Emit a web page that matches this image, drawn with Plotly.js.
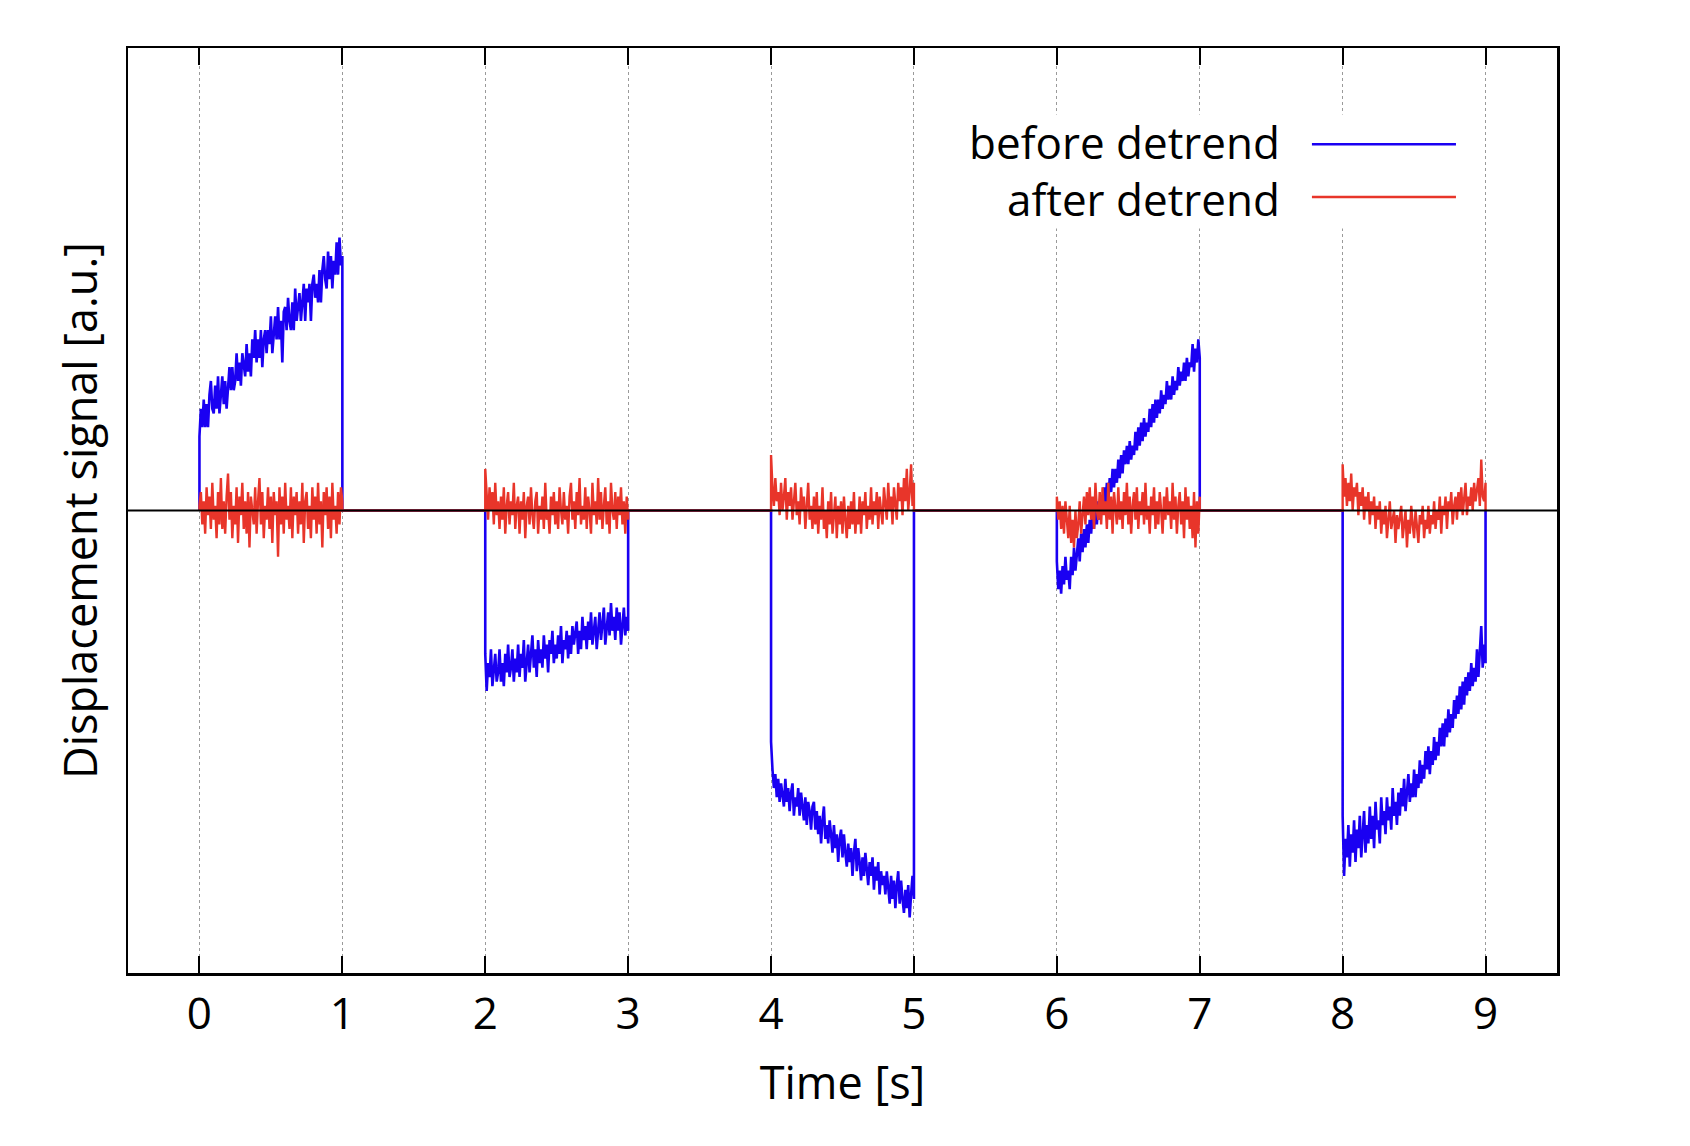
<!DOCTYPE html>
<html>
<head>
<meta charset="utf-8">
<script src="https://cdn.plot.ly/plotly-3.0.1.min.js"></script>
<style>
  html, body { margin: 0; padding: 0; background: #fff; }
  #plot { width: 1690px; height: 1146px; }
</style>
</head>
<body>
<div id="plot"></div>
<script>
// start time of each recorded segment [s], each lasts 1 s, sampled every 10 ms
var seg_start = [0, 2, 4, 6, 8];
var seg_len = 1;
var dt = 0.01;

// displacement before detrend (a.u.)
var blue1 = [0.16, 0.22, 0.18, 0.24, 0.18, 0.23, 0.18, 0.25, 0.28, 0.22,
  0.21, 0.27, 0.22, 0.29, 0.21, 0.25, 0.29, 0.23, 0.28, 0.22,
  0.28, 0.31, 0.26, 0.31, 0.26, 0.28, 0.34, 0.28, 0.32, 0.27,
  0.34, 0.31, 0.29, 0.36, 0.30, 0.34, 0.29, 0.37, 0.33, 0.39,
  0.32, 0.37, 0.33, 0.39, 0.31, 0.37, 0.39, 0.34, 0.39, 0.36,
  0.42, 0.34, 0.38, 0.42, 0.37, 0.44, 0.37, 0.41, 0.32, 0.43,
  0.44, 0.39, 0.46, 0.41, 0.39, 0.45, 0.39, 0.48, 0.41, 0.45,
  0.47, 0.41, 0.45, 0.49, 0.41, 0.48, 0.45, 0.49, 0.41, 0.49,
  0.51, 0.46, 0.49, 0.45, 0.52, 0.45, 0.52, 0.55, 0.50, 0.48,
  0.56, 0.50, 0.55, 0.48, 0.54, 0.51, 0.58, 0.51, 0.59, 0.53,
  0.55];
var blue2 = [-0.31, -0.39, -0.33, -0.36, -0.30, -0.38, -0.34, -0.31, -0.37, -0.35,
  -0.30, -0.37, -0.33, -0.38, -0.31, -0.35, -0.29, -0.36, -0.34, -0.30,
  -0.37, -0.32, -0.35, -0.29, -0.36, -0.31, -0.34, -0.28, -0.37, -0.33,
  -0.29, -0.35, -0.31, -0.27, -0.34, -0.30, -0.36, -0.28, -0.33, -0.30,
  -0.34, -0.27, -0.32, -0.29, -0.35, -0.28, -0.31, -0.26, -0.33, -0.29,
  -0.32, -0.27, -0.31, -0.25, -0.33, -0.28, -0.30, -0.26, -0.32, -0.27,
  -0.31, -0.25, -0.29, -0.27, -0.24, -0.31, -0.26, -0.30, -0.23, -0.28,
  -0.25, -0.30, -0.24, -0.28, -0.22, -0.29, -0.26, -0.23, -0.30, -0.25,
  -0.22, -0.28, -0.24, -0.21, -0.29, -0.25, -0.22, -0.27, -0.20, -0.26,
  -0.23, -0.28, -0.21, -0.26, -0.22, -0.29, -0.24, -0.21, -0.27, -0.23,
  -0.26];
var blue3 = [-0.50, -0.56, -0.60, -0.57, -0.62, -0.58, -0.63, -0.59, -0.61, -0.64,
  -0.58, -0.63, -0.60, -0.65, -0.61, -0.59, -0.66, -0.62, -0.64, -0.60,
  -0.66, -0.61, -0.64, -0.67, -0.62, -0.68, -0.63, -0.65, -0.69, -0.64,
  -0.63, -0.69, -0.65, -0.70, -0.66, -0.72, -0.67, -0.64, -0.71, -0.68,
  -0.72, -0.67, -0.70, -0.74, -0.68, -0.73, -0.70, -0.76, -0.71, -0.69,
  -0.75, -0.70, -0.74, -0.77, -0.72, -0.76, -0.73, -0.79, -0.74, -0.71,
  -0.78, -0.73, -0.76, -0.80, -0.75, -0.79, -0.74, -0.77, -0.81, -0.76,
  -0.79, -0.75, -0.82, -0.77, -0.80, -0.76, -0.83, -0.78, -0.81, -0.79,
  -0.83, -0.78, -0.82, -0.85, -0.79, -0.84, -0.80, -0.86, -0.81, -0.78,
  -0.85, -0.80, -0.84, -0.87, -0.82, -0.86, -0.81, -0.88, -0.83, -0.79,
  -0.84];
var blue4 = [-0.11, -0.17, -0.13, -0.18, -0.12, -0.16, -0.10, -0.15, -0.13, -0.17,
  -0.10, -0.14, -0.08, -0.13, -0.09, -0.06, -0.11, -0.05, -0.09, -0.04,
  -0.08, -0.03, -0.07, -0.02, -0.05, 0.00, -0.04, 0.01, -0.03, 0.02,
  -0.02, 0.03, 0.00, 0.05, 0.01, 0.06, 0.02, 0.07, 0.04, 0.09,
  0.05, 0.09, 0.06, 0.11, 0.07, 0.12, 0.08, 0.13, 0.10, 0.14,
  0.10, 0.15, 0.11, 0.14, 0.12, 0.17, 0.13, 0.18, 0.14, 0.19,
  0.15, 0.20, 0.16, 0.19, 0.17, 0.22, 0.18, 0.23, 0.19, 0.24,
  0.20, 0.24, 0.21, 0.26, 0.22, 0.25, 0.23, 0.28, 0.24, 0.27,
  0.24, 0.29, 0.25, 0.28, 0.26, 0.31, 0.27, 0.30, 0.28, 0.32,
  0.28, 0.33, 0.29, 0.32, 0.31, 0.36, 0.30, 0.35, 0.32, 0.37,
  0.33];
var blue5 = [-0.66, -0.79, -0.71, -0.75, -0.68, -0.77, -0.70, -0.74, -0.67, -0.76,
  -0.69, -0.73, -0.66, -0.75, -0.70, -0.65, -0.74, -0.68, -0.72, -0.64,
  -0.71, -0.66, -0.73, -0.63, -0.69, -0.67, -0.72, -0.62, -0.68, -0.65,
  -0.70, -0.62, -0.67, -0.64, -0.69, -0.60, -0.66, -0.63, -0.68, -0.61,
  -0.66, -0.60, -0.64, -0.58, -0.65, -0.61, -0.57, -0.63, -0.59, -0.62,
  -0.56, -0.62, -0.57, -0.60, -0.54, -0.59, -0.55, -0.58, -0.52, -0.56,
  -0.51, -0.57, -0.52, -0.55, -0.49, -0.54, -0.50, -0.53, -0.47, -0.51,
  -0.46, -0.51, -0.45, -0.49, -0.43, -0.48, -0.44, -0.47, -0.41, -0.45,
  -0.40, -0.44, -0.38, -0.43, -0.37, -0.42, -0.36, -0.40, -0.35, -0.39,
  -0.33, -0.38, -0.34, -0.37, -0.30, -0.36, -0.31, -0.25, -0.34, -0.29,
  -0.33];

// displacement after detrend (a.u.)
var red1 = [0.01, 0.04, -0.03, 0.02, -0.05, 0.05, -0.01, 0.03, -0.04, 0.06,
  -0.02, 0.01, -0.06, 0.04, -0.03, 0.07, -0.04, 0.02, -0.05, 0.03,
  0.08, -0.02, 0.04, -0.06, 0.01, -0.03, 0.05, -0.07, 0.03, -0.01,
  0.06, -0.04, 0.02, -0.05, 0.04, -0.08, 0.03, 0.00, -0.03, 0.05,
  -0.05, 0.02, 0.07, -0.03, 0.04, -0.06, 0.01, -0.02, 0.05, -0.04,
  0.03, -0.07, 0.04, -0.01, 0.02, -0.10, 0.05, -0.03, 0.03, -0.05,
  0.06, -0.02, 0.01, -0.04, 0.05, -0.06, 0.03, -0.01, 0.04, -0.05,
  0.02, -0.03, 0.06, -0.07, 0.02, 0.04, -0.04, 0.01, -0.06, 0.05,
  -0.02, 0.03, -0.05, 0.06, -0.03, 0.02, -0.08, 0.04, -0.01, 0.05,
  -0.04, 0.03, -0.06, 0.06, -0.02, 0.01, -0.05, 0.04, -0.03, 0.05,
  0.02];
var red2 = [0.09, 0.03, -0.02, 0.05, 0.00, 0.04, -0.03, 0.06, -0.01, 0.02,
  -0.04, 0.03, -0.02, 0.05, -0.05, 0.01, 0.04, -0.03, 0.02, -0.01,
  0.06, -0.04, 0.01, 0.03, -0.05, 0.02, -0.02, 0.04, -0.06, 0.01,
  0.03, -0.03, 0.05, -0.01, -0.04, 0.02, 0.04, -0.05, 0.01, -0.02,
  0.03, -0.04, 0.06, -0.02, 0.00, -0.05, 0.03, -0.01, 0.04, -0.03,
  0.02, -0.04, 0.05, 0.00, -0.03, 0.04, -0.02, 0.01, -0.05, 0.03,
  0.06, -0.02, 0.02, -0.04, 0.04, -0.01, 0.07, -0.03, 0.01, -0.02,
  0.05, -0.04, 0.03, 0.00, -0.05, 0.06, -0.01, 0.02, -0.03, 0.07,
  -0.02, 0.04, -0.04, 0.01, 0.05, -0.03, 0.02, -0.05, 0.06, 0.00,
  -0.02, 0.04, -0.04, 0.03, -0.01, 0.05, -0.03, 0.02, -0.05, 0.03,
  -0.02];
var red3 = [0.12, 0.05, 0.01, 0.07, 0.02, 0.04, -0.01, 0.06, 0.00, 0.03,
  0.07, -0.02, 0.04, 0.01, 0.05, -0.02, 0.03, 0.06, -0.01, 0.02,
  -0.03, 0.05, 0.00, 0.03, -0.04, 0.02, 0.06, -0.02, 0.01, -0.04,
  0.03, -0.03, 0.04, -0.05, 0.01, -0.02, 0.05, -0.04, 0.00, -0.06,
  0.02, -0.03, 0.04, -0.05, -0.01, 0.03, -0.06, 0.01, -0.03, 0.02,
  -0.05, 0.03, -0.02, -0.06, 0.01, -0.04, 0.02, -0.03, 0.04, -0.05,
  0.00, -0.03, 0.03, -0.05, 0.02, -0.01, 0.04, -0.04, 0.01, -0.02,
  0.05, -0.03, 0.02, -0.01, 0.04, -0.04, 0.03, 0.00, -0.03, 0.05,
  0.01, -0.02, 0.06, 0.00, 0.03, -0.03, 0.05, 0.01, -0.02, 0.06,
  0.02, 0.05, -0.01, 0.07, 0.02, 0.09, 0.00, 0.04, 0.10, 0.01,
  0.06];
var red4 = [0.03, -0.02, 0.02, -0.04, 0.01, -0.05, 0.02, -0.03, -0.06, 0.01,
  -0.07, -0.02, -0.08, 0.00, -0.06, -0.03, 0.02, -0.05, -0.01, 0.03,
  -0.03, 0.04, -0.01, 0.05, -0.02, 0.03, -0.04, 0.06, 0.00, -0.02,
  0.04, -0.03, 0.05, -0.01, 0.02, -0.04, 0.06, -0.02, 0.03, -0.05,
  0.04, 0.00, -0.03, 0.05, -0.02, 0.02, -0.04, 0.04, -0.01, 0.06,
  -0.03, 0.03, -0.05, 0.01, 0.04, -0.02, 0.05, -0.04, 0.02, -0.01,
  0.04, -0.03, 0.06, -0.02, 0.01, -0.05, 0.03, -0.01, 0.05, -0.04,
  0.02, -0.03, 0.04, 0.00, -0.05, 0.03, -0.02, 0.05, -0.01, 0.02,
  -0.04, 0.06, -0.02, 0.03, -0.05, 0.01, 0.04, -0.03, 0.02, -0.06,
  0.05, -0.02, 0.03, -0.04, 0.01, -0.06, 0.04, -0.08, 0.02, -0.05,
  0.03];
var red5 = [0.10, 0.03, 0.07, 0.01, 0.06, 0.02, 0.08, 0.00, 0.05, 0.03,
  0.06, -0.01, 0.04, 0.01, 0.05, -0.02, 0.03, 0.00, 0.04, -0.03,
  0.02, -0.01, 0.03, -0.04, 0.01, -0.02, 0.02, -0.05, 0.00, -0.03,
  0.01, -0.06, -0.01, 0.02, -0.04, -0.02, 0.00, -0.07, -0.01, -0.04,
  -0.02, 0.01, -0.06, -0.03, 0.00, -0.08, -0.02, -0.05, 0.01, -0.03,
  -0.06, 0.00, -0.04, -0.07, -0.01, -0.03, 0.01, -0.06, -0.02, -0.04,
  0.01, -0.05, -0.01, -0.03, 0.02, -0.04, 0.00, -0.02, 0.03, -0.05,
  0.01, -0.01, 0.03, -0.04, 0.02, 0.00, 0.04, -0.03, 0.01, 0.03,
  -0.02, 0.04, 0.00, 0.05, -0.01, 0.02, 0.06, -0.01, 0.03, 0.01,
  0.05, 0.00, 0.06, 0.02, 0.04, 0.07, 0.01, 0.11, 0.03, 0.02,
  0.06];

var x_ticks = [0, 1, 2, 3, 4, 5, 6, 7, 8, 9];
var series_names = ['before detrend', 'after detrend'];

var blue_col = '#1a00f2';
var red_col = '#e8352a';
var font_fam = '"Open Sans", "Noto Sans", sans-serif';

// signal is zero between the recordings, jumps at start and end of each one
var build_trace = function(segs) {
  var xs = [];
  var ys = [];
  for (var s = 0; s < segs.length; s++) {
    var t0 = seg_start[s];
    xs.push(t0);
    ys.push(0);
    for (var i = 0; i < segs[s].length; i++) {
      xs.push(+(t0 + i * dt).toFixed(3));
      ys.push(segs[s][i]);
    }
    xs.push(t0 + seg_len);
    ys.push(0);
  }
  return [xs, ys];
};

var before = build_trace([blue1, blue2, blue3, blue4, blue5]);
var after = build_trace([red1, red2, red3, red4, red5]);

var trace_1 = {
  x: before[0],
  y: before[1],
  type: 'scatter',
  mode: 'lines',
  name: series_names[0],
  line: {color: blue_col, width: 2.6}
};

var trace_2 = {
  x: after[0],
  y: after[1],
  type: 'scatter',
  mode: 'lines',
  name: series_names[1],
  line: {color: red_col, width: 2.4}
};

// key drawn by hand: gnuplot puts the text left of the sample line
var key_x_text = 0.8075;
var key_x0 = 0.8285, key_x1 = 0.9293;
var key_y = [0.896, 0.839];

var layout = {
  width: 1690,
  height: 1146,
  margin: {l: 128, r: 133, t: 48, b: 173},
  paper_bgcolor: '#fff',
  plot_bgcolor: '#fff',
  showlegend: false,
  hovermode: false,
  font: {family: font_fam, size: 44, color: '#000'},
  xaxis: {
    range: [-0.5, 9.5],
    tickvals: x_ticks,
    ticks: 'inside',
    ticklen: 17,
    tickwidth: 2,
    tickcolor: '#000',
    ticklabelstandoff: 1,
    showline: true,
    linecolor: '#000',
    linewidth: 2.5,
    mirror: 'ticks',
    showgrid: true,
    gridcolor: '#9a9a9a',
    gridwidth: 1,
    griddash: 'dot',
    zeroline: false,
    tickfont: {size: 44},
    title: {text: 'Time [s]', font: {size: 45}, standoff: 26}
  },
  yaxis: {
    range: [-1, 1],
    showticklabels: false,
    ticks: '',
    showgrid: false,
    zeroline: false,
    showline: true,
    linecolor: '#000',
    linewidth: 2.5,
    mirror: true,
    title: {text: 'Displacement signal [a.u.]', font: {size: 45}, standoff: 14}
  },
  shapes: [
    {type: 'line', xref: 'paper', yref: 'y', x0: 0, x1: 1, y0: 0, y1: 0,
     layer: 'above', line: {color: '#000', width: 2}},
    {type: 'rect', xref: 'paper', yref: 'paper', x0: 0.568, x1: 0.939, y0: 0.805, y1: 0.928,
     layer: 'above', fillcolor: '#fff', line: {width: 0}},
    {type: 'line', xref: 'paper', yref: 'paper', x0: key_x0, x1: key_x1, y0: key_y[0], y1: key_y[0],
     layer: 'above', line: {color: blue_col, width: 2.5}},
    {type: 'line', xref: 'paper', yref: 'paper', x0: key_x0, x1: key_x1, y0: key_y[1], y1: key_y[1],
     layer: 'above', line: {color: red_col, width: 2.5}}
  ],
  // both key texts in one right-aligned block so the lines stack like gnuplot's key
  annotations: [
    {xref: 'paper', yref: 'paper', x: key_x_text, y: (key_y[0] + key_y[1]) / 2,
     xanchor: 'right', yanchor: 'middle', align: 'right',
     text: series_names[0] + '<br>' + series_names[1], showarrow: false,
     font: {size: 44}}
  ]
};

Plotly.newPlot('plot', [trace_1, trace_2], layout, {displayModeBar: false, staticPlot: true});
</script>
</body>
</html>
